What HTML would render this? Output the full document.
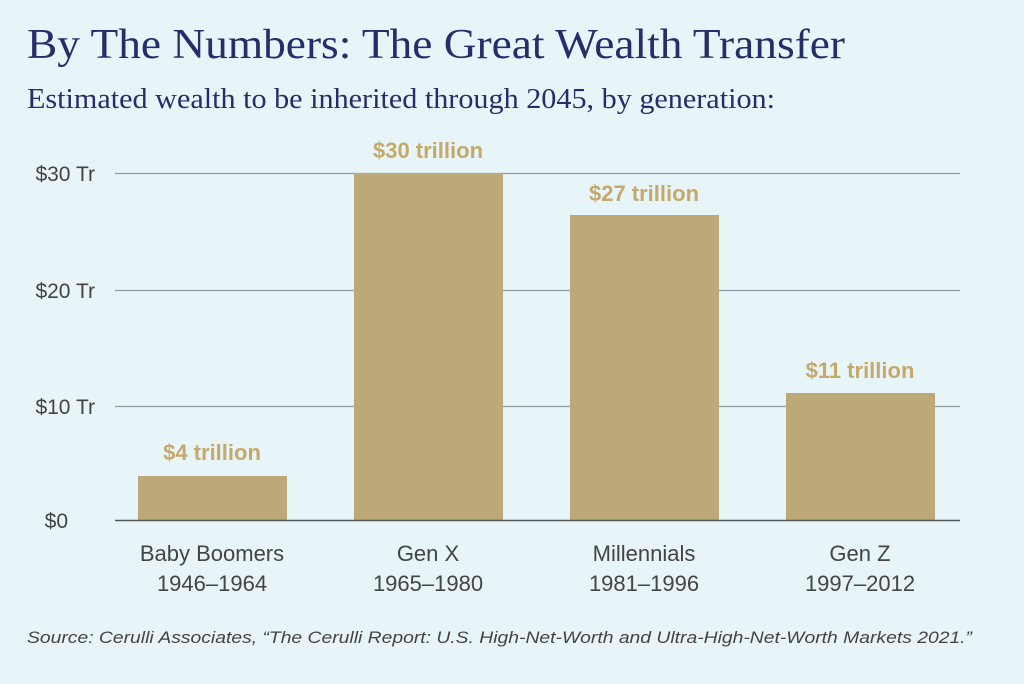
<!DOCTYPE html>
<html><head><style>
html,body{margin:0;padding:0;background:#e7f4f8;}
svg{display:block;}
</style></head><body>
<svg width="1024" height="684" viewBox="0 0 1024 684" xmlns="http://www.w3.org/2000/svg">
<rect width="1024" height="684" fill="#e7f4f8"/>
<text x="27" y="58" font-family="Liberation Serif, serif" font-size="42" fill="#262d6b" textLength="818" lengthAdjust="spacingAndGlyphs">By The Numbers: The Great Wealth Transfer</text>
<text x="27" y="108" font-family="Liberation Serif, serif" font-size="28" fill="#262d6b" textLength="748" lengthAdjust="spacingAndGlyphs">Estimated wealth to be inherited through 2045, by generation:</text>
<g stroke="#8d9ea6" stroke-width="1.2">
<line x1="115" y1="173.5" x2="960" y2="173.5"/>
<line x1="115" y1="290.5" x2="960" y2="290.5"/>
<line x1="115" y1="406.5" x2="960" y2="406.5"/>
</g>
<g fill="#bda877">
<rect x="138" y="476" width="149" height="44"/>
<rect x="354" y="173" width="149" height="347"/>
<rect x="570" y="215" width="149" height="305"/>
<rect x="786" y="393" width="149" height="127"/>
</g>
<line x1="115" y1="520.5" x2="960" y2="520.5" stroke="#555" stroke-width="1.5"/>
<g font-family="Liberation Sans, sans-serif" font-size="21" fill="#444" text-anchor="end">
<text x="95" y="181">$30 Tr</text>
<text x="95" y="298">$20 Tr</text>
<text x="95" y="414">$10 Tr</text>
<text x="68" y="528">$0</text>
</g>
<g font-family="Liberation Sans, sans-serif" font-size="22" font-weight="bold" fill="#c5a96b" text-anchor="middle">
<text x="212" y="460">$4 trillion</text>
<text x="428" y="158">$30 trillion</text>
<text x="644" y="201">$27 trillion</text>
<text x="860" y="378">$11 trillion</text>
</g>
<g font-family="Liberation Sans, sans-serif" font-size="22" fill="#444" text-anchor="middle">
<text x="212" y="561">Baby Boomers</text><text x="212" y="591">1946–1964</text>
<text x="428" y="561">Gen X</text><text x="428" y="591">1965–1980</text>
<text x="644" y="561">Millennials</text><text x="644" y="591">1981–1996</text>
<text x="860" y="561">Gen Z</text><text x="860" y="591">1997–2012</text>
</g>
<text x="27" y="643" font-family="Liberation Sans, sans-serif" font-size="17" font-style="italic" fill="#444" textLength="945" lengthAdjust="spacingAndGlyphs">Source: Cerulli Associates, “The Cerulli Report: U.S. High-Net-Worth and Ultra-High-Net-Worth Markets 2021.”</text>
</svg>
</body></html>
